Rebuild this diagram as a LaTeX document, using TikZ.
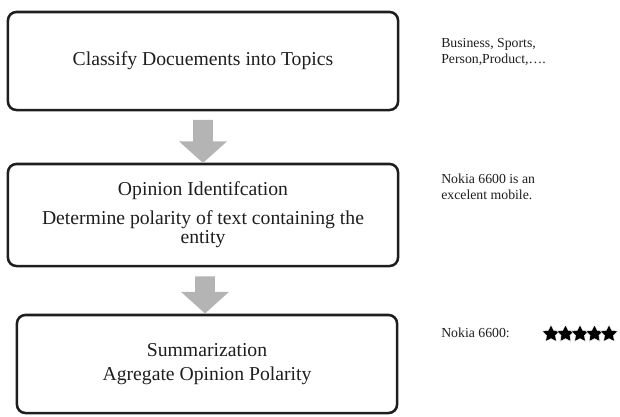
\documentclass[tikz,border=0pt]{standalone}
\usepackage{fontspec}
\setmainfont{Liberation Serif}
\usetikzlibrary{shapes.geometric, shapes.arrows}
\definecolor{arrowgray}{HTML}{B4B4B4}
\definecolor{inkgray}{HTML}{1E1E1E}

\begin{document}
\begin{tikzpicture}[x=0.025cm, y=-0.025cm,
    stepbox/.style={draw=inkgray, text=inkgray, line width=1.8pt, rounded corners=6pt, minimum width=9.75cm, align=flush center, text width=8.6cm, font=\fontsize{14}{14.2}\selectfont},
    flowarrow/.style={single arrow, fill=arrowgray, rotate=-90, inner xsep=0pt, inner ysep=0.24cm, minimum width=1.17cm, single arrow head extend=0.35cm, single arrow tip angle=96},
    sidenote/.style={anchor=west, align=left, text=inkgray, inner sep=0pt, font=\fontsize{9.8}{11}\selectfont},
    ratestar/.style={star, star points=5, star point ratio=2.0, minimum size=0.46cm, inner sep=0pt, fill=black, draw=white, line width=0.3pt}]
  \useasboundingbox (0,0) rectangle (620,416);
  % the three steps
  \node[stepbox, minimum height=2.45cm] (classify) at (203,61) {Classify Docuements into Topics};
  \node[stepbox, minimum height=2.55cm] (identify) at (203,215) {Opinion Identifcation\\[6pt] Determine polarity of text containing the entity};
  \node[stepbox, minimum width=9.5cm, minimum height=2.45cm] (summarize) at (207,364) {Summarization\\[3pt] Agregate Opinion Polarity};
  % arrows between the steps
  \path (classify.south) -- (identify.north) node[midway, flowarrow, minimum height=1.075cm] (arrowA) {};
  \path (identify.south) -- (summarize.north) node[midway, flowarrow, minimum height=0.925cm] (arrowB) {};
  % notes on the right
  \node[sidenote] (topicsnote) at (441,52) {Business, Sports,\\Person,Product,….};
  \node[sidenote] (entitynote) at (441,187) {Nokia 6600 is an\\excelent mobile.};
  \node[sidenote] (ratingnote) at (441,333) {Nokia 6600:};
  \foreach \i in {0,...,4}
    \node[ratestar] (star\i) at (551+14.5*\i,334) {};
\end{tikzpicture}
\end{document}
